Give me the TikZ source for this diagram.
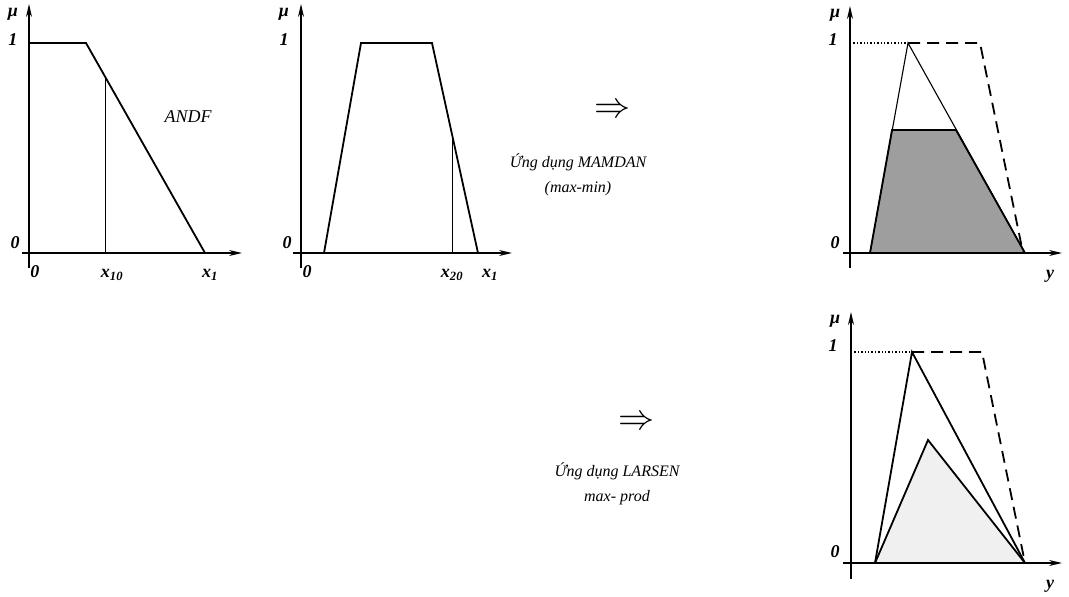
\documentclass[tikz,border=0pt]{standalone}
\usepackage{fontspec}
\usepackage{graphicx}
\setmainfont{Liberation Serif}
\usetikzlibrary{arrows.meta}

\tikzset{
  axisline/.style={line width=1.5pt,-{Stealth[length=13pt,width=6pt]}},
  curve/.style={line width=1.8pt,line join=miter},
  thinline/.style={line width=0.9pt},
  lbl/.style={font=\bfseries\itshape\fontsize{18}{20}\selectfont,inner sep=0pt},
  capt/.style={font=\itshape\fontsize{16}{25}\selectfont,inner sep=0pt,align=center},
  implies/.style={inner sep=0pt},
}
\newcommand{\bigimplies}{\scalebox{1.45}{\fontsize{24}{24}\selectfont$\Rightarrow$}}

\begin{document}
\begin{tikzpicture}[x=1pt,y=-1pt]
\useasboundingbox (0,0) rectangle (1069,597);

% Membership of x1 (ANDF)
\draw[axisline] (22,253) -- (242,253);
\draw[axisline] (29,268) -- (29,4);
\draw[curve] (29,43) -- (86,43) -- (205,253);
\draw[thinline] (105,253) -- (105,76);
\node[lbl] (mua) at (13,14) {μ};
\node[lbl] (onea) at (13,40) {1};
\node[lbl] (zeroa) at (15,243) {0};
\node[lbl] (origa) at (35,272) {0};
\node[lbl] (xten) at (112,275) {x\textsubscript{10}};
\node[lbl] (xonea) at (210,275) {x\textsubscript{1}};
\node[capt,font=\itshape\fontsize{18}{20}\selectfont] (andf) at (188,117) {ANDF};

% Membership of x2
\draw[axisline] (293,253) -- (512,253);
\draw[axisline] (301,268) -- (301,4);
\draw[curve] (324,253) -- (361,43) -- (432,43) -- (478,253);
\draw[thinline] (452,253) -- (452,134);
\node[lbl] (mub) at (284,14) {μ};
\node[lbl] (oneb) at (284,40) {1};
\node[lbl] (zerob) at (287,243) {0};
\node[lbl] (origb) at (307,272) {0};
\node[lbl] (xtwenty) at (452,275) {x\textsubscript{20}};
\node[lbl] (xoneb) at (490,275) {x\textsubscript{1}};

% Inference texts
\node[implies] (impa) at (613,111) {\bigimplies};
\node[capt] (mamdan) at (578,175) {Ứng dụng MAMDAN\\(max-min)};
\node[implies] (impb) at (637,423) {\bigimplies};
\node[capt] (larsen) at (617,484) {Ứng dụng LARSEN\\max- prod};

% Output MAMDAN
\fill[black!38] (870,253) -- (892,130) -- (956,130) -- (1025,253) -- cycle;
\draw[axisline] (843,253) -- (1062,253);
\draw[axisline] (850,268) -- (850,6);
\draw[dotted,line width=1.4pt] (850,43) -- (908,43);
\draw[curve,dash pattern=on 12pt off 7pt] (908,43) -- (980,43) -- (1023,253);
\draw[thinline,line width=1.1pt] (870,253) -- (908,43) -- (1025,253);
\draw[curve] (870,253) -- (892,130) -- (956,130) -- (1025,253);
\node[lbl] (muc) at (835,15) {μ};
\node[lbl] (onec) at (833,40) {1};
\node[lbl] (zeroc) at (835,243) {0};
\node[lbl] (yc) at (1050,276) {y};

% Output LARSEN
\fill[gray!12] (875,563) -- (928,440) -- (1025,563) -- cycle;
\draw[axisline] (843,563) -- (1062,563);
\draw[axisline] (851,579) -- (851,312);
\draw[dotted,line width=1.4pt] (851,352) -- (912,352);
\draw[curve,dash pattern=on 12pt off 7pt] (912,352) -- (982,352) -- (1025,563);
\draw[curve] (875,563) -- (912,352) -- (1025,563);
\draw[curve] (875,563) -- (928,440) -- (1025,563);
\node[lbl] (mud) at (835,321) {μ};
\node[lbl] (oned) at (833,346) {1};
\node[lbl] (zerod) at (835,552) {0};
\node[lbl] (yd) at (1050,586) {y};
\end{tikzpicture}
\end{document}
